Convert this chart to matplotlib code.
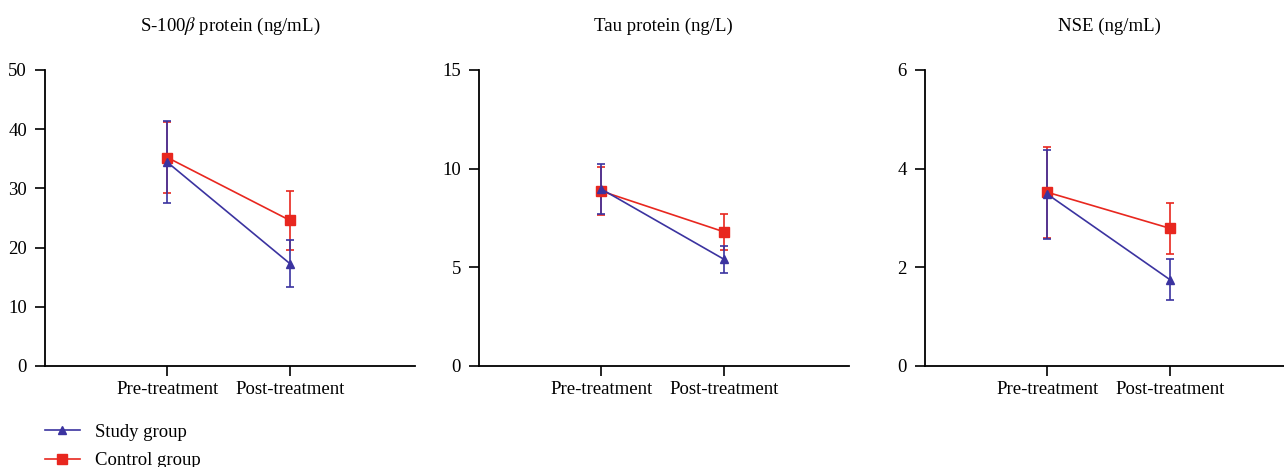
import matplotlib
matplotlib.use("Agg")
import matplotlib.pyplot as plt
from matplotlib.lines import Line2D

plt.rcParams['font.family'] = ['Liberation Serif', 'DejaVu Serif']
plt.rcParams['mathtext.fontset'] = 'stix'

stages = ["Pre-treatment", "Post-treatment"]
titles = [r"S-100$\beta$ protein (ng/mL)", "Tau protein (ng/L)", "NSE (ng/mL)"]
ylims = [50, 15, 6]
yticks = [[0, 10, 20, 30, 40, 50], [0, 5, 10, 15], [0, 2, 4, 6]]

study_mean = [[34.4, 17.3], [8.96, 5.41], [3.48, 1.75]]
study_err = [[6.9, 4.0], [1.26, 0.68], [0.9, 0.42]]
control_mean = [[35.2, 24.6], [8.86, 6.80], [3.52, 2.79]]
control_err = [[6.0, 5.0], [1.2, 0.92], [0.92, 0.52]]

blue = "#3b33a0"
red = "#e8271f"

fig = plt.figure(figsize=(12.84, 4.67), dpi=100)
lefts = [0.035, 0.373, 0.7204]

for i in range(3):
    ax = fig.add_axes([lefts[i], 0.2163, 0.288, 0.634])
    x = [0, 1]
    ax.errorbar(x, control_mean[i], yerr=control_err[i], color=red, marker="s",
                markersize=7, lw=1.2, capsize=3, elinewidth=1.2, capthick=1.2)
    ax.errorbar(x, study_mean[i], yerr=study_err[i], color=blue, marker="^",
                markersize=6, lw=1.2, capsize=3, elinewidth=1.2, capthick=1.2)
    ax.set_xlim(-1, 2.02)
    ax.set_ylim(0, ylims[i])
    ax.set_yticks(yticks[i])
    ax.set_xticks(x)
    ax.set_xticklabels(stages)
    for s in ["top", "right"]:
        ax.spines[s].set_visible(False)
    for s in ["left", "bottom"]:
        ax.spines[s].set_linewidth(1.3)
    ax.tick_params(axis="y", length=7, width=1.2, labelsize=13.5, pad=6)
    ax.tick_params(axis="x", length=7, width=1.2, labelsize=13.5, pad=4)
    ax.set_title(titles[i], fontsize=13.5, pad=28)

handles = [Line2D([], [], color=blue, marker="^", markersize=6, lw=1.2),
           Line2D([], [], color=red, marker="s", markersize=7, lw=1.2)]
fig.legend(handles, ["Study group", "Control group"], loc="upper left",
           bbox_to_anchor=(0.035, 0.093), frameon=False, fontsize=13.5,
           handlelength=1.87, handletextpad=0.8, labelspacing=0.62,
           borderaxespad=0, borderpad=0)

fig.savefig("out.png", dpi=100)
